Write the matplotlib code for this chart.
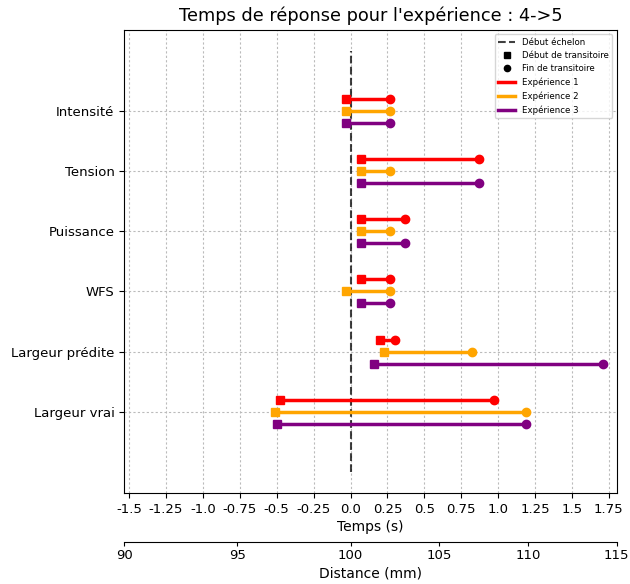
import matplotlib
matplotlib.use('Agg')
import matplotlib.pyplot as plt
import numpy as np

# categories, top to bottom
grandeurs = ['Intensité', 'Tension', 'Puissance', 'WFS', 'Largeur prédite', 'Largeur vrai']

# debut / fin de transitoire (s) for each experience
exp1_debut = [-0.03, 0.07, 0.07, 0.07, 0.20, -0.48]
exp1_fin = [0.27, 0.87, 0.37, 0.27, 0.30, 0.97]
exp2_debut = [-0.03, 0.07, 0.07, -0.03, 0.23, -0.51]
exp2_fin = [0.27, 0.27, 0.27, 0.27, 0.82, 1.19]
exp3_debut = [-0.03, 0.07, 0.07, 0.07, 0.16, -0.50]
exp3_fin = [0.27, 0.87, 0.37, 0.27, 1.71, 1.19]

experiences = ['Expérience 1', 'Expérience 2', 'Expérience 3']
couleurs = ['red', 'orange', 'purple']
decalages = [0.2, 0.0, -0.2]

temps_ticks = [-1.5, -1.25, -1.0, -0.75, -0.5, -0.25, 0.0, 0.25, 0.5, 0.75, 1.0, 1.25, 1.5, 1.75]
distance_ticks = [90, 95, 100, 105, 110, 115]
xmin, xmax = -1.534, 1.804

fig = plt.figure(figsize=(6.3, 5.84), dpi=100)
ax = fig.add_axes([0.197, 0.156, 0.782, 0.793])

ypos = np.arange(len(grandeurs))[::-1]

ax.vlines(0, -1, len(grandeurs), colors='k', linestyles='--', lw=1.5, alpha=0.75,
          label='Début échelon')
ax.plot([], [], 's', color='k', ms=4.5, label='Début de transitoire')
ax.plot([], [], 'o', color='k', ms=4.5, label='Fin de transitoire')

debuts = [exp1_debut, exp2_debut, exp3_debut]
fins = [exp1_fin, exp2_fin, exp3_fin]
for k in range(3):
    for i in range(len(grandeurs)):
        y = ypos[i] + decalages[k]
        ax.plot([debuts[k][i], fins[k][i]], [y, y], color=couleurs[k], lw=2.5,
                label=experiences[k] if i == 0 else None)
        ax.plot(debuts[k][i], y, 's', color=couleurs[k], ms=6)
        ax.plot(fins[k][i], y, 'o', color=couleurs[k], ms=6)

ax.set_yticks(ypos)
ax.set_yticklabels(grandeurs, fontsize=9.5)
ax.set_xticks(temps_ticks)
ax.set_xticklabels([str(t) for t in temps_ticks], fontsize=9.5)
ax.set_xlim(xmin, xmax)
ax.grid(True, linestyle=(0, (2, 2)), color='#bbbbbb', lw=0.8)
ax.set_xlabel('Temps (s)', fontsize=10, labelpad=3)
ax.set_title("Temps de réponse pour l'expérience : 4->5", fontsize=12.8)

# distance axis: speed changes at t=0
v1 = 10 / -xmin
v2 = 15 / xmax
def t2d(t):
    t = np.asarray(t, dtype=float)
    return np.where(t < 0, 100 + v1 * t, 100 + v2 * t)
def d2t(d):
    d = np.asarray(d, dtype=float)
    return np.where(d < 100, (d - 100) / v1, (d - 100) / v2)

sec = ax.secondary_xaxis(-0.106, functions=(t2d, d2t))
sec.set_xticks(distance_ticks)
sec.tick_params(labelsize=9.5, length=3, pad=2)
sec.set_xlabel('Distance (mm)', fontsize=10, labelpad=3)

ax.legend(loc='upper right', fontsize=6.2)

fig.savefig('out.png', dpi=100)
